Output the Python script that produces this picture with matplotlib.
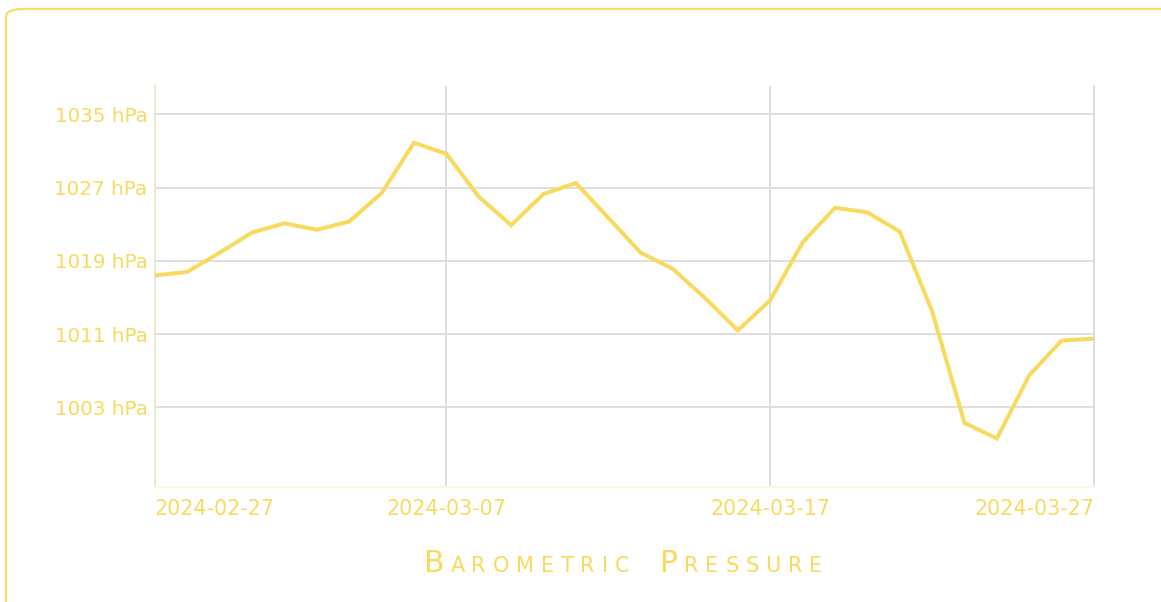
import matplotlib
matplotlib.use("Agg")
import matplotlib.pyplot as plt
import matplotlib.dates as mdates
from matplotlib.patches import FancyBboxPatch
import numpy as np

# --- data ---
start_date = "2024-02-27"
pressure_hpa = [
    1017.4, 1017.8, 1019.9, 1022.1, 1023.1, 1022.4, 1023.3, 1026.4, 1031.9, 1030.7,
    1026.0, 1022.9, 1026.3, 1027.5, 1023.7, 1019.9, 1018.1, 1014.9, 1011.4, 1014.7,
    1021.0, 1024.8, 1024.3, 1022.2, 1013.5, 1001.3, 999.6, 1006.5, 1010.3, 1010.5,
]
dates = np.arange(np.datetime64(start_date), np.datetime64(start_date) + len(pressure_hpa))
y_ticks = [1003, 1011, 1019, 1027, 1035]
x_tick_labels = ["2024-02-27", "2024-03-07", "2024-03-17", "2024-03-27"]
title = "Barometric Pressure"

YELLOW = "#F8DB5E"
GRID = "#DCDCDC"

W, H = 1161, 602
fig = plt.figure(figsize=(W / 100, H / 100), dpi=100)
fig.patch.set_facecolor("white")

# outer rounded frame (runs off right/bottom edges)
frame = FancyBboxPatch((6 / W, -0.05), 1.1, 1.05 - 9 / H,
                       boxstyle="round,pad=0,rounding_size=0.014",
                       transform=fig.transFigure, facecolor="none",
                       edgecolor="#F9DF73", linewidth=1.7, zorder=0)
fig.patches.append(frame)

ax = fig.add_axes([155 / W, (H - 487) / H, (1094 - 155) / W, (487 - 86) / H])
x = mdates.date2num(dates.astype("datetime64[D]").astype(object))
ax.plot(x, pressure_hpa, color=YELLOW, linewidth=2.9, solid_joinstyle="miter", zorder=3)

ax.set_xlim(x[0], x[-1])
ax.set_ylim(994.3, 1038.1)

xt = [mdates.date2num(np.datetime64(d).astype(object)) for d in x_tick_labels]
ax.set_xticks(xt)
ax.set_xticklabels(x_tick_labels)
ax.set_yticks(y_ticks)
ax.set_yticklabels([f"{v} hPa" for v in y_ticks])

ax.tick_params(length=0, labelcolor=YELLOW)
ax.tick_params(axis="x", pad=8.5, labelsize=14.9)
ax.tick_params(axis="y", pad=5.5, labelsize=14.3)
labels = ax.get_xticklabels()
labels[0].set_ha("left")
labels[-1].set_ha("right")

ax.grid(True, color=GRID, linewidth=1.3)
ax.set_axisbelow(True)
ax.spines["top"].set_visible(False)
ax.spines["left"].set_color("#EEE9D3")
ax.spines["left"].set_linewidth(1.6)
ax.spines["bottom"].set_color("#FBF6E0")
ax.spines["bottom"].set_linewidth(1.6)
ax.spines["right"].set_color(GRID)
ax.spines["right"].set_linewidth(1.3)

# small-caps title with letter spacing
renderer = fig.canvas.get_renderer()
big, small = 21.5, 15.0
word_gap = 30.0
title_left, title_right = 423, 822

words = []
for word in title.split(" "):
    items = []
    for ch in word:
        size = big if ch.isupper() else small
        t = fig.text(0, 0, ch.upper(), fontsize=size, color=YELLOW,
                     ha="left", va="baseline")
        items.append((t, t.get_window_extent(renderer).width))
    words.append(items)

sum_w = sum(w for items in words for _, w in items)
n_gaps = sum(len(items) - 1 for items in words)
tracking = (title_right - title_left - sum_w - word_gap * (len(words) - 1)) / n_gaps

px = title_left
base_y = H - 572
for wi, items in enumerate(words):
    for ci, (t, w) in enumerate(items):
        t.set_position((px / W, base_y / H))
        px += w + (tracking if ci < len(items) - 1 else 0)
    px += word_gap

fig.savefig("out.png", dpi=100, facecolor="white")
